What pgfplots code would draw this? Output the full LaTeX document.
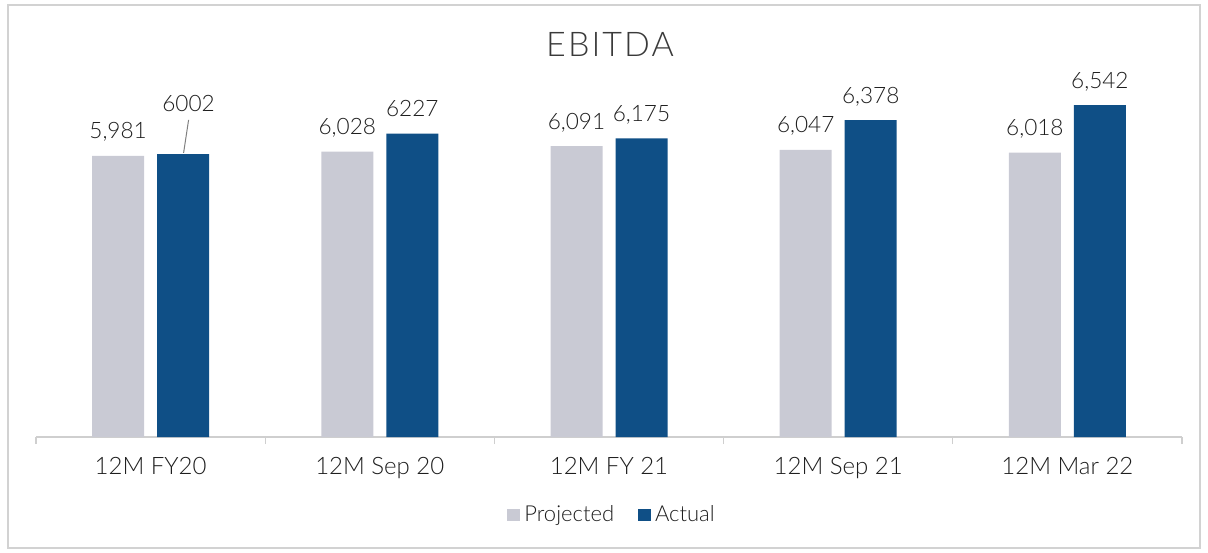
\documentclass[border=0pt]{standalone}
\usepackage{fontspec}
\setmainfont{Lato}[UprightFont=* Light]
\usepackage{pgfplots}
\pgfplotsset{compat=1.18}
\usepackage{pgfplotstable}
\definecolor{Proj}{HTML}{C9CAD4}
\definecolor{Act}{HTML}{0F4F86}
\definecolor{FrameGray}{HTML}{D2D2D2}
\definecolor{AxisGray}{HTML}{CFCFCF}
\definecolor{TextDark}{HTML}{1E1E1E}
\definecolor{TitleGray}{HTML}{3A3A3A}

\pgfplotstableread{
x val lab
0 5981 {5,981}
1 6028 {6,028}
2 6091 {6,091}
3 6047 {6,047}
4 6018 {6,018}
}\projected
\pgfplotstableread{
x val lab
0 6002 {}
1 6227 {6227}
2 6175 {6,175}
3 6378 {6,378}
4 6542 {6,542}
}\actual

\begin{document}
\begin{tikzpicture}
\path (0pt,0pt) rectangle (604pt,276pt);
\draw[FrameGray,line width=0.8pt] (4pt,2pt) rectangle (600pt,273.5pt);
\node[anchor=base,font=\fontsize{17}{19}\selectfont\addfontfeature{LetterSpace=6},text=TitleGray] at (305pt,247.5pt) {EBITDA};
\begin{axis}[
  at={(18pt,57.5pt)},anchor=south west,
  scale only axis,width=573pt,height=168.5pt,
  xmin=-0.5,xmax=4.5,ymin=2872,ymax=6600,
  ybar=6.5pt,bar width=26pt,
  axis x line*=bottom,axis y line=none,
  x axis line style={-,AxisGray,line width=0.7pt},
  xtick={0,1,2,3,4},
  xticklabels={12M FY20,12M Sep 20,12M FY 21,12M Sep 21,12M Mar 22},
  major tick length=0pt,
  minor xtick={-0.5,0.5,1.5,2.5,3.5,4.5},
  minor tick length=3.5pt,tick align=outside,
  tick style={AxisGray,line width=0.6pt},
  ytick=\empty,
  xticklabel style={anchor=base,yshift=-18.5pt,font=\fontsize{12}{13}\selectfont,text=TextDark},
  clip=false,
  nodes near coords,point meta=explicit symbolic,
  every node near coord/.append style={anchor=base,yshift=8.5pt,font=\fontsize{11.3}{12}\selectfont,text=TextDark},
  legend style={draw=none,fill=none,at={(0.5035,-0.2315)},anchor=center,
    legend columns=2,font=\fontsize{11}{12}\selectfont,text=TextDark,
    /tikz/every even column/.append style={column sep=10pt}},
  legend image code/.code={\fill[#1] (0pt,-3.2pt) rectangle (6.5pt,3.2pt);},
]
\addplot[fill=Proj,draw=none] table[x=x,y=val,meta=lab] {\projected};
\addlegendentry{Projected}
\addplot[fill=Act,draw=none] table[x=x,y=val,meta=lab] {\actual};
\addlegendentry{Actual}
\draw[gray,line width=0.5pt] ([xshift=19pt]axis cs:0,6380) -- ([xshift=16.5pt]axis cs:0,6015);
\node[anchor=base,font=\fontsize{11.3}{12}\selectfont,text=TextDark] at ([xshift=19pt]axis cs:0,6468) {6002};
\end{axis}
\end{tikzpicture}
\end{document}
